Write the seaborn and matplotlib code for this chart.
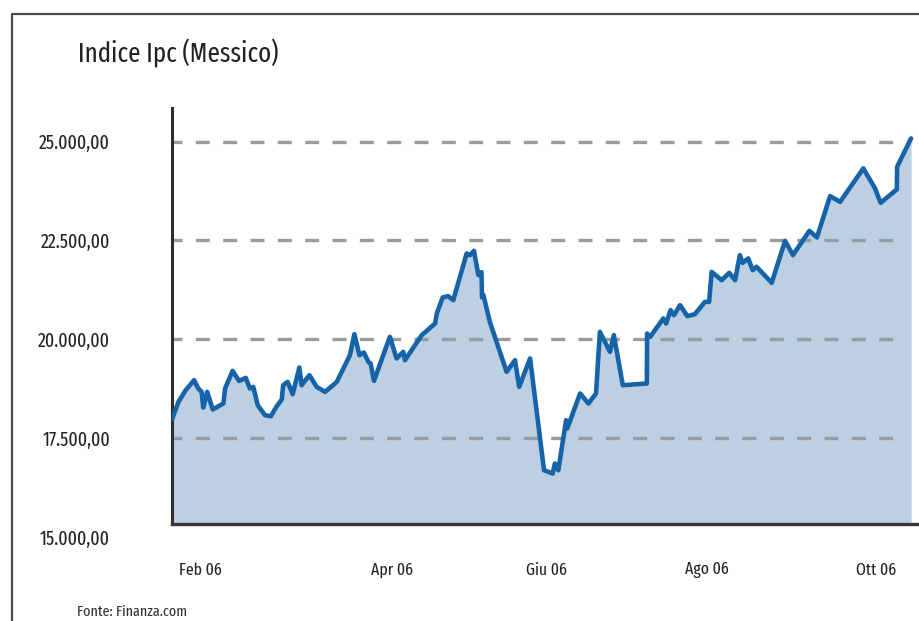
import os
import matplotlib
matplotlib.use('Agg')
import matplotlib.pyplot as plt
import seaborn as sns
import pandas as pd
from matplotlib.ticker import FuncFormatter, FixedLocator
from matplotlib.lines import Line2D
from matplotlib import font_manager as fm

# ---- data (days from start of the plotted period, index value) ----
days = [0.0, 2.3, 4.9, 7.9, 9.4, 10.6, 11.2, 12.6, 14.6, 18.4, 19.0, 21.7, 24.0, 26.4,
        27.9, 29.1, 30.7, 33.3, 35.4, 37.5, 39.3, 39.8, 41.4, 43.2, 45.6, 46.4, 49.2,
        51.8, 54.8, 59.0, 63.7, 65.3, 67.1, 68.7, 70.3, 71.1, 72.3, 78.0, 80.4, 82.8,
        83.4, 89.4, 94.2, 94.8, 96.9, 98.9, 100.7, 105.5, 106.7, 108.1, 109.7, 110.8,
        111.0, 111.5, 113.8, 119.8, 122.8, 124.3, 128.2, 133.2, 136.3, 137.1, 138.3,
        141.1, 141.5, 146.1, 149.1, 151.8, 153.2, 156.8, 158.2, 161.4, 170.0, 170.1,
        171.2, 175.9, 176.9, 178.5, 179.7, 181.9, 184.5, 187.2, 190.8, 192.3, 193.2,
        196.8, 199.5, 201.6, 203.3, 204.3, 206.3, 207.9, 209.3, 214.7, 219.5, 222.3,
        228.2, 230.9, 235.6, 239.2, 247.5, 251.7, 253.7, 259.5, 259.6, 264.6]
values = [17972, 18417, 18713, 18966, 18756, 18670, 18275, 18670, 18225, 18377, 18756,
          19201, 18948, 19024, 18756, 18797, 18333, 18080, 18055, 18308, 18477, 18839,
          18923, 18612, 19287, 18839, 19093, 18797, 18670, 18923, 19598, 20130, 19598,
          19667, 19429, 19389, 18948, 20062, 19515, 19682, 19472, 20105, 20400, 20653,
          21058, 21091, 20990, 22172, 22128, 22237, 21623, 21700, 21058, 21116, 20441,
          19176, 19472, 18797, 19515, 16689, 16605, 16858, 16689, 17954, 17744, 18629,
          18377, 18629, 20188, 19682, 20105, 18839, 18882, 20147, 20062, 20527, 20400,
          20737, 20610, 20863, 20585, 20636, 20947, 20947, 21706, 21496, 21681, 21496,
          22128, 21934, 22045, 21749, 21833, 21428, 22490, 22128, 22743, 22576, 23621,
          23477, 24322, 23816, 23452, 23791, 24362, 25081]
tick_days = [10.0, 78.8, 133.9, 191.5, 252.0]
tick_labels = ['Feb 06', 'Apr 06', 'Giu 06', 'Ago 06', 'Ott 06']
y_ticks = [15000, 17500, 20000, 22500, 25000]
title = 'Indice Ipc (Messico)'
source = 'Fonte: Finanza.com'

sns.set_theme(style='white')
plt.rcParams['font.family'] = ['DejaVu Sans']


def pick_font():
    """Choose the narrowest regular upright font that is installed."""
    bad = ('Bold', 'Italic', 'Light', 'Thin', 'Medium', 'Black', 'Semi', 'Oblique',
           'Heavy', 'Extra' + 'Bold', 'Mono')
    prefs = ['ExtraCondensed', 'Condensed', 'Narrow']
    for key in prefs:
        for f in fm.fontManager.ttflist:
            base = os.path.basename(f.fname)
            stem = base.replace('ExtraCondensed', '').replace('Condensed', '').replace('Narrow', '')
            if key in base and not any(b in stem for b in bad) and f.style == 'normal' \
                    and f.weight in (400, 'normal', 'regular'):
                if key == 'Condensed' and 'ExtraCondensed' in base:
                    continue
                return fm.FontProperties(fname=f.fname)
    return fm.FontProperties(family='DejaVu Sans')


FP = pick_font()

W, H = 920, 621
fig = plt.figure(figsize=(W / 100, H / 100), dpi=100)
renderer = fig.canvas.get_renderer()


def fit_size(text, target_px):
    t = fig.text(0, 0, text, fontproperties=FP, fontsize=20)
    w = t.get_window_extent(renderer).width
    t.remove()
    return 20 * target_px / w


ax = fig.add_axes([172 / W, (H - 537) / H, (W - 172) / W, (537 - 108) / H])

df = pd.DataFrame({'day': days, 'value': values})
base = 15320
ax.fill_between(df['day'], df['value'], base, color='#bccfe3', lw=0, zorder=1)
for y in y_ticks[1:]:
    ax.axhline(y, xmin=0, xmax=0.969, color='#9a9b9f', lw=2.4,
               linestyle=(1.2, (4.2, 4.0)), zorder=2)
sns.lineplot(data=df, x='day', y='value', ax=ax, color='#1663a7', lw=3.3,
             sort=False, estimator=None, zorder=3)

ax.set_xlim(0, 267.8)
ax.set_ylim(15000, 25850)
ax.set_xlabel('')
ax.set_ylabel('')

ax.spines['top'].set_visible(False)
ax.spines['right'].set_visible(False)
ax.spines['left'].set_color('#2e2e2e')
ax.spines['left'].set_linewidth(2.2)
ax.spines['left'].set_bounds(base, 25850)
ax.spines['bottom'].set_position(('data', base))
ax.spines['bottom'].set_color('#353535')
ax.spines['bottom'].set_linewidth(2.4)

ax.yaxis.set_major_locator(FixedLocator(y_ticks))
ax.yaxis.set_major_formatter(FuncFormatter(
    lambda v, p: f"{v:,.2f}".replace(',', 'X').replace('.', ',').replace('X', '.')))
ax.xaxis.set_major_locator(FixedLocator(tick_days))
ax.set_xticklabels(tick_labels)
ysize = fit_size('25.000,00', 72)
xsize = fit_size('Feb 06', 43)
ax.tick_params(axis='y', length=0, pad=44.6, labelcolor='#222222')
ax.tick_params(axis='x', length=0, pad=27, labelcolor='#222222')
for lab in ax.get_yticklabels():
    lab.set_fontproperties(FP)
    lab.set_fontsize(ysize)
for lab in ax.get_xticklabels():
    lab.set_fontproperties(FP)
    lab.set_fontsize(xsize)
ax.grid(False)

fig.add_artist(Line2D([12 / W, 12 / W, 1], [0, 1 - 14 / H, 1 - 14 / H],
                      transform=fig.transFigure, color='#4a4a4a', lw=1.6))
fig.text(78 / W, 1 - 62 / H, title, fontproperties=FP, fontsize=fit_size(title, 200),
         va='baseline', color='#222222')
fig.text(77 / W, 1 - 612 / H, source, fontproperties=FP, fontsize=fit_size(source, 110),
         va='center', color='#333333')

fig.savefig('out.png', dpi=100)
